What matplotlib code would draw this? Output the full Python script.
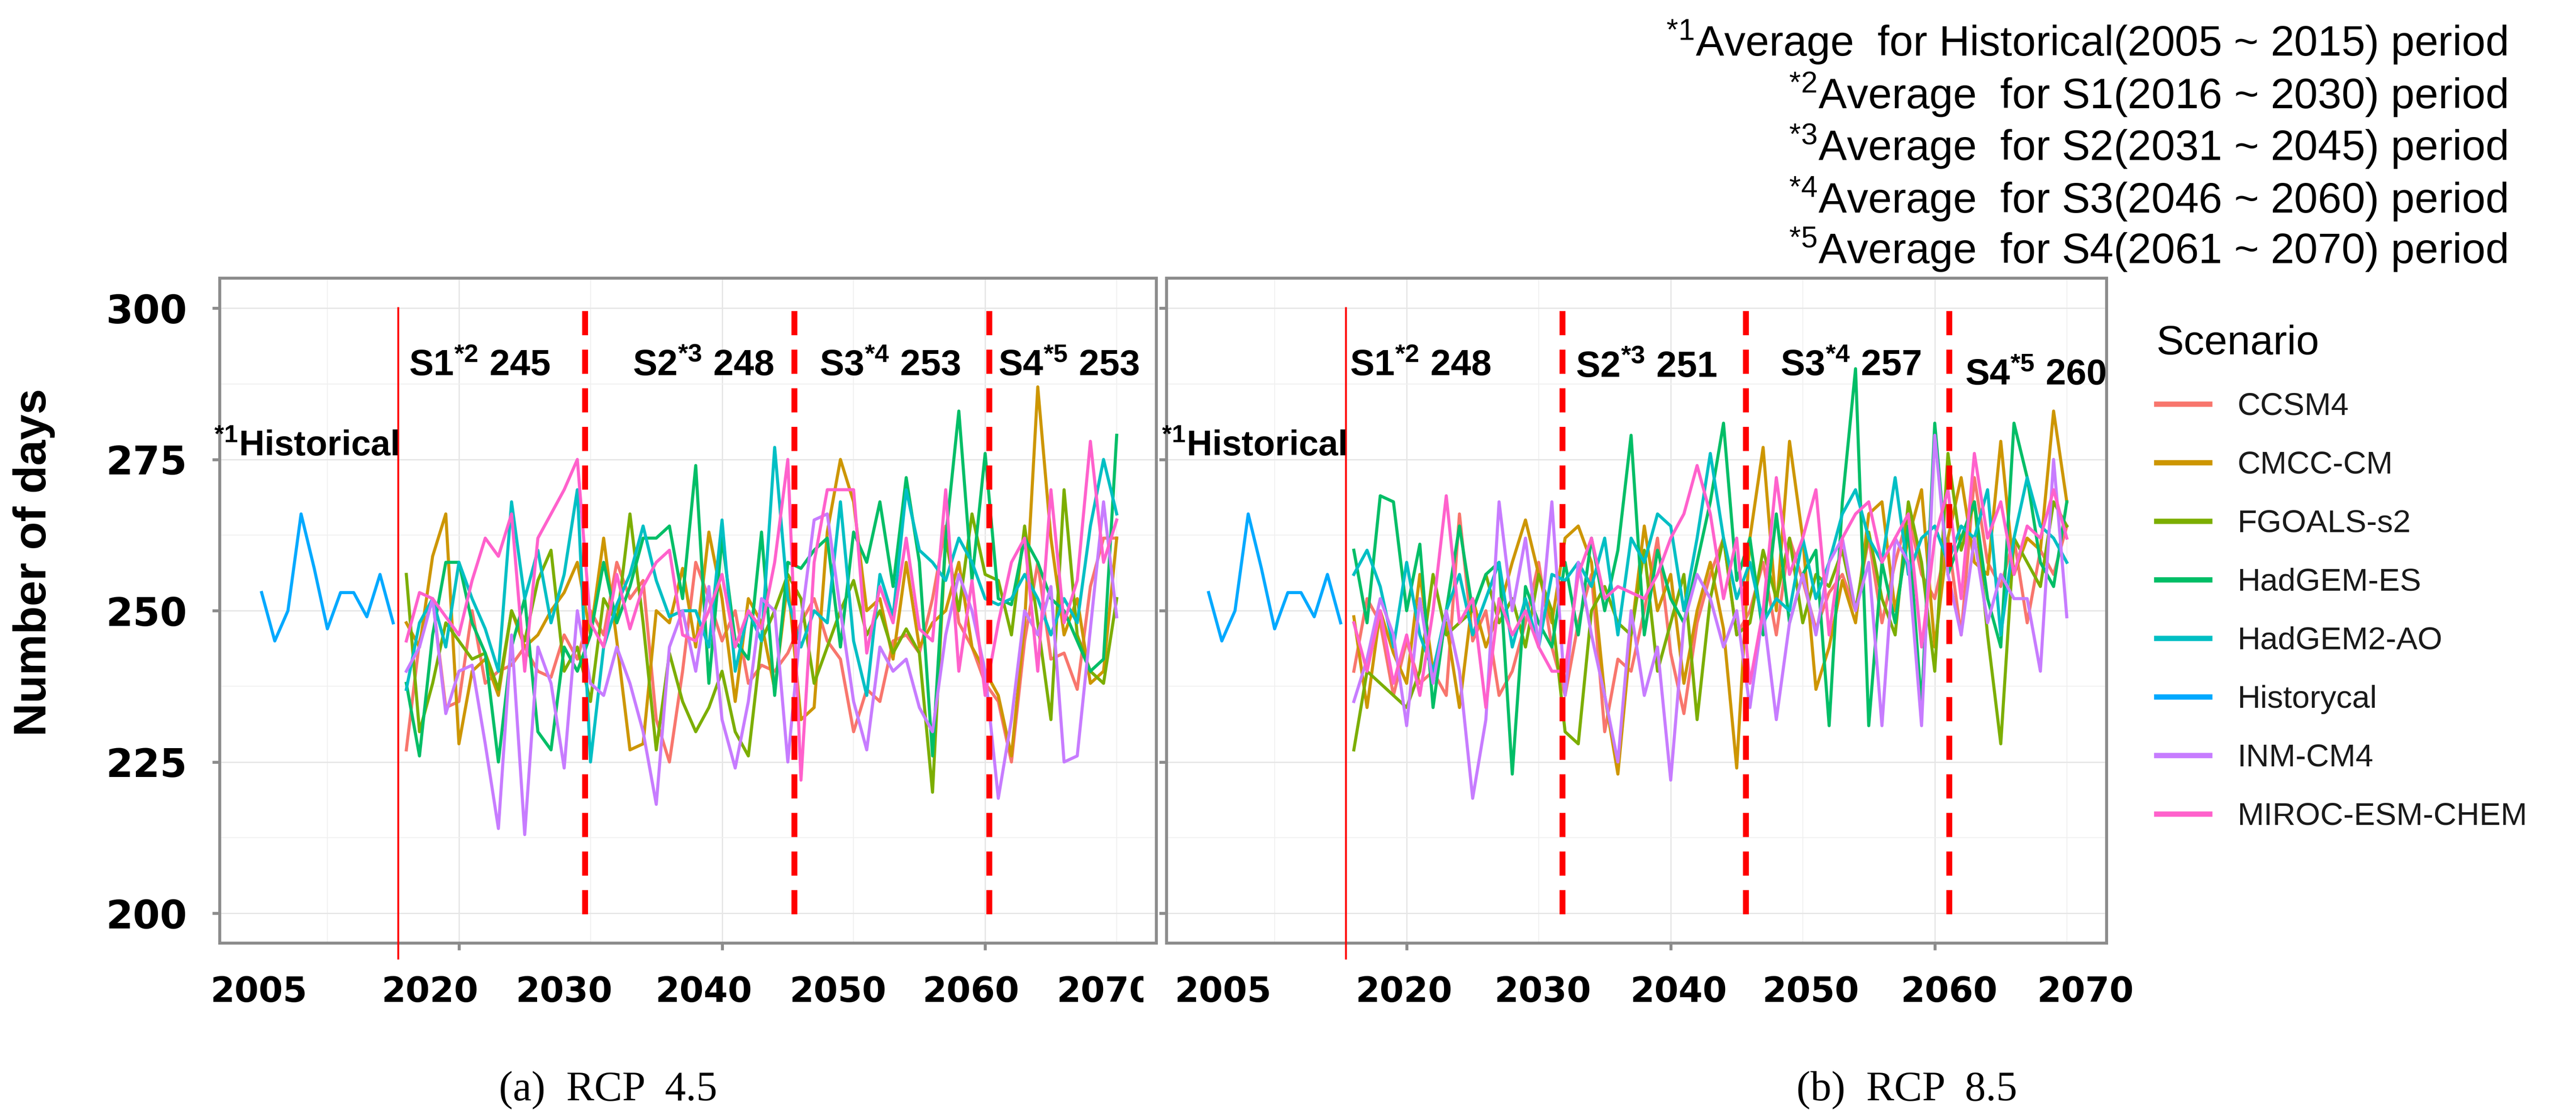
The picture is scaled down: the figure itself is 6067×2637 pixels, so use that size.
import numpy as np
import matplotlib
matplotlib.use("Agg")
import matplotlib.pyplot as plt
from matplotlib.lines import Line2D
from matplotlib.transforms import Bbox, TransformedBbox, blended_transform_factory

plt.rcParams['mathtext.fontset'] = 'custom'
plt.rcParams['mathtext.rm'] = 'Liberation Sans'
plt.rcParams['mathtext.bf'] = 'Liberation Sans:bold'
plt.rcParams['mathtext.it'] = 'Liberation Sans:italic'

# ---- data ----
hist_years = list(range(2005, 2016))
hist_vals = [253, 245, 250, 266, 257, 247, 253, 253, 249, 256, 248]

years = list(range(2016, 2071))

models = ["CCSM4", "CMCC-CM", "FGOALS-s2", "HadGEM-ES", "HadGEM2-AO", "Historycal", "INM-CM4", "MIROC-ESM-CHEM"]
colors = ["#F8766D", "#CD9600", "#7CAE00", "#00BE67", "#00BFC4", "#00A9FF", "#C77CFF", "#FF61CC"]

rcp45 = {
    "CCSM4": [227, 245, 252, 234, 235, 250, 238, 240, 241, 244, 240, 239, 246, 242, 250,
              246, 258, 252, 255, 232, 225, 240, 258, 252, 245, 250, 238, 241, 240, 243,
              248, 252, 245, 242, 230, 237, 235, 245, 246, 243, 252, 264, 248, 244, 238,
              235, 225, 245, 258, 242, 243, 237, 254, 262, 262],
    "CMCC-CM": [248, 244, 259, 266, 228, 240, 242, 236, 250, 244, 246, 250, 253, 258, 246,
                262, 245, 227, 228, 250, 248, 257, 244, 263, 252, 235, 252, 248, 237, 255,
                232, 234, 263, 275, 268, 250, 252, 242, 258, 244, 248, 250, 258, 244, 240,
                236, 226, 248, 287, 262, 246, 252, 238, 240, 262],
    "FGOALS-s2": [256, 230, 238, 248, 245, 242, 243, 237, 250, 245, 255, 260, 240, 244, 235,
                  252, 248, 266, 248, 227, 243, 235, 230, 234, 240, 230, 226, 245, 250, 256,
                  252, 238, 244, 250, 255, 246, 250, 243, 247, 243, 220, 262, 250, 266, 256,
                  255, 246, 264, 248, 232, 270, 246, 240, 238, 252],
    "HadGEM-ES": [238, 226, 246, 258, 258, 248, 243, 225, 244, 252, 230, 227, 244, 240, 246,
                  258, 248, 254, 262, 262, 264, 252, 274, 238, 262, 245, 242, 263, 236, 258,
                  257, 260, 262, 244, 263, 258, 268, 254, 272, 258, 226, 262, 283, 255, 276,
                  252, 251, 262, 258, 252, 250, 245, 240, 242, 279],
    "HadGEM2-AO": [237, 248, 252, 244, 258, 252, 247, 240, 268, 252, 260, 248, 256, 270, 225,
                   244, 251, 256, 264, 255, 249, 250, 250, 244, 265, 240, 250, 245, 277, 252,
                   244, 250, 248, 268, 245, 236, 256, 249, 270, 260, 258, 255, 262, 258, 252,
                   251, 252, 256, 252, 246, 252, 248, 264, 275, 266],
    "INM-CM4": [240, 244, 252, 233, 240, 241, 228, 214, 246, 213, 244, 238, 224, 250, 238,
                236, 244, 238, 230, 218, 244, 250, 240, 254, 232, 224, 235, 252, 250, 225,
                248, 265, 266, 250, 235, 227, 244, 240, 242, 234, 230, 246, 256, 250, 240,
                219, 232, 250, 246, 254, 225, 226, 247, 268, 249],
    "MIROC-ESM-CHEM": [245, 253, 252, 249, 246, 255, 262, 259, 266, 240, 262, 266, 270, 275, 248,
                       244, 256, 247, 254, 258, 260, 246, 245, 250, 256, 244, 250, 247, 258, 275,
                       222, 258, 270, 270, 270, 243, 254, 248, 262, 247, 245, 270, 240, 255, 236,
                       248, 258, 262, 240, 270, 248, 255, 278, 258, 265],
}

rcp85 = {
    "CCSM4": [240, 252, 248, 236, 245, 238, 240, 236, 266, 245, 250, 236, 240, 248, 258,
              244, 236, 248, 256, 230, 242, 240, 250, 262, 243, 233, 248, 256, 262, 246,
              250, 258, 246, 262, 255, 247, 253, 256, 250, 262, 248, 258, 266, 256, 252,
              262, 246, 272, 258, 254, 262, 248, 260, 256, 264],
    "CMCC-CM": [249, 234, 250, 243, 238, 256, 240, 248, 234, 252, 244, 250, 258, 265, 256,
                248, 262, 264, 258, 236, 223, 246, 264, 250, 256, 238, 250, 258, 247, 224,
                262, 277, 250, 278, 262, 237, 244, 255, 248, 266, 268, 250, 262, 270, 244,
                262, 272, 258, 256, 278, 256, 262, 260, 283, 268],
    "FGOALS-s2": [227, 240, 238, 236, 234, 240, 256, 246, 248, 250, 256, 248, 252, 244, 256,
                  250, 230, 228, 250, 254, 248, 246, 260, 240, 248, 256, 232, 252, 262, 246,
                  248, 260, 252, 262, 248, 256, 254, 260, 250, 263, 252, 246, 268, 258, 240,
                  276, 260, 268, 246, 228, 262, 258, 254, 268, 264],
    "HadGEM-ES": [260, 248, 269, 268, 250, 261, 234, 250, 264, 250, 256, 258, 223, 254, 248,
                  244, 258, 246, 262, 250, 260, 279, 246, 260, 252, 248, 258, 268, 281, 255,
                  262, 246, 266, 248, 256, 260, 231, 268, 290, 231, 258, 248, 264, 234, 281,
                  256, 262, 268, 252, 244, 281, 272, 258, 254, 268],
    "HadGEM2-AO": [256, 260, 254, 244, 258, 246, 240, 250, 256, 246, 252, 258, 244, 252, 244,
                   256, 255, 258, 254, 262, 246, 262, 258, 266, 264, 250, 262, 276, 262, 252,
                   258, 248, 252, 250, 262, 252, 258, 266, 270, 262, 258, 272, 256, 262, 264,
                   258, 264, 262, 270, 246, 262, 272, 264, 262, 258],
    "INM-CM4": [235, 242, 252, 246, 231, 252, 238, 250, 240, 219, 232, 268, 250, 262, 244,
                268, 236, 258, 246, 236, 225, 250, 236, 244, 222, 248, 256, 252, 244, 250,
                234, 250, 232, 248, 256, 246, 258, 262, 250, 258, 231, 262, 258, 231, 279,
                256, 246, 262, 248, 256, 252, 252, 240, 275, 249],
    "MIROC-ESM-CHEM": [248, 240, 250, 238, 246, 236, 250, 269, 248, 252, 234, 252, 246, 250, 244,
                       240, 240, 256, 262, 252, 254, 253, 252, 256, 262, 266, 274, 266, 252, 262,
                       238, 250, 272, 256, 262, 270, 246, 262, 266, 268, 258, 262, 266, 244, 262,
                       270, 252, 276, 262, 268, 256, 264, 262, 270, 262],
}

period_labels = ["S1", "S2", "S3", "S4"]
period_marks = ["*2", "*3", "*4", "*5"]
period_means_45 = [245, 248, 253, 253]
period_means_85 = [248, 251, 257, 260]

hist_line = 2015.4
dash_45 = [2029.6, 2045.5, 2060.3]
dash_85 = [2031.8, 2045.7, 2061.1]
label_x_45 = [2016.2, 2033.2, 2047.4, 2061.0]
label_x_85 = [2015.7, 2032.8, 2048.3, 2062.3]
label_y_45 = [288.9, 288.9, 288.9, 288.9]
label_y_85 = [288.9, 288.6, 288.9, 287.3]

xtick_text = ["2005", "2020", "2030", "2040", "2050", "2060", "2070"]
xtick_pos_45 = [2004.8, 2017.8, 2028.0, 2038.6, 2048.8, 2058.9, 2069.1]
xtick_pos_85 = [2006.1, 2019.8, 2030.3, 2040.6, 2050.6, 2061.1, 2071.4]

footnotes = [
    r"$^{*1}$Average  for Historical(2005 ~ 2015) period",
    r"$^{*2}$Average  for S1(2016 ~ 2030) period",
    r"$^{*3}$Average  for S2(2031 ~ 2045) period",
    r"$^{*4}$Average  for S3(2046 ~ 2060) period",
    r"$^{*5}$Average  for S4(2061 ~ 2070) period",
]

W, H = 6067, 2637
fig = plt.figure(figsize=(W / 100, H / 100), dpi=100)
fig.patch.set_facecolor("white")

ax1 = fig.add_axes([517 / W, 1 - 2222 / H, (2723 - 517) / W, (2222 - 655) / H])
ax2 = fig.add_axes([2747 / W, 1 - 2222 / H, (4961 - 2747) / W, (2222 - 655) / H])

border = "#8c8c8c"


def draw_panel(ax, data, dashes, lab_x, lab_y, means, tick_pos, show_y, clip_last):
    for m, c in zip(models, colors):
        if m == "Historycal":
            ax.plot(hist_years, hist_vals, color=c, lw=5.2, zorder=3)
        else:
            ax.plot(years, data[m], color=c, lw=5.2, zorder=3)

    ax.plot([hist_line, hist_line], [300, 192.5], color="#ff0000", lw=3.2,
            zorder=5, clip_on=False)
    for d in dashes:
        ax.plot([d, d], [299.5, 198.3], color="#ff0000", lw=10,
                dashes=(4.1, 2.45), zorder=5)

    for s, mk, v, x, y in zip(period_labels, period_marks, means, lab_x, lab_y):
        ax.text(x, y, s + r"$^{\mathbf{" + mk + "}}$ " + str(v), fontsize=62,
                fontweight="bold", family="Liberation Sans", ha="left",
                va="baseline", zorder=6, clip_on=False)
    ax.text(hist_line, 275.6, r"$^{\mathbf{*1}}$Historical", fontsize=60,
            fontweight="bold", family="Liberation Sans",
            ha="right", va="baseline", zorder=6, clip_on=False)

    ax.set_xlim(2001.8, 2073.0)
    ax.set_ylim(195.1, 305)
    ax.set_xticks([2020, 2040, 2060])
    ax.set_xticks([2010, 2030, 2050, 2070], minor=True)
    ax.set_yticks([200, 225, 250, 275, 300])
    ax.set_yticks([212.5, 237.5, 262.5, 287.5], minor=True)
    ax.grid(which="major", color="#e6e6e6", lw=2.2, zorder=0)
    ax.grid(which="minor", color="#f0f0f0", lw=1.6, zorder=0)
    ax.set_axisbelow(True)
    ax.tick_params(which="major", length=12, width=5, color=border,
                   labelbottom=False, labelleft=show_y, pad=43)
    ax.tick_params(which="minor", length=0)
    if show_y:
        for lbl in ax.get_yticklabels():
            lbl.set_fontsize(66)
            lbl.set_fontweight("bold")
            lbl.set_family("DejaVu Sans")
    for sp in ax.spines.values():
        sp.set_color(border)
        sp.set_linewidth(5)

    tr = blended_transform_factory(ax.transData, ax.transAxes)
    for i, (t, p) in enumerate(zip(xtick_text, tick_pos)):
        txt = ax.text(p, -0.0745, t, transform=tr, ha="center", va="center",
                      fontsize=59, fontweight="bold", family="DejaVu Sans",
                      clip_on=False)
        if clip_last and i == len(xtick_text) - 1:
            txt.set_clip_box(TransformedBbox(Bbox([[0, 0], [2693 / W, 1]]),
                                             fig.transFigure))
            txt.set_clip_on(True)


draw_panel(ax1, rcp45, dash_45, label_x_45, label_y_45, period_means_45,
           xtick_pos_45, True, True)
draw_panel(ax2, rcp85, dash_85, label_x_85, label_y_85, period_means_85,
           xtick_pos_85, False, False)

fig.text(80 / W, 1 - 1325 / H, "Number of days", rotation=90, ha="center",
         va="center", fontsize=78, fontweight="bold", family="Liberation Sans")

# footnotes top right
foot_y = [131, 256, 379, 502, 620]
for t, y in zip(footnotes, foot_y):
    fig.text(5904 / W, 1 - y / H, t, ha="right", va="baseline", fontsize=72,
             family="Liberation Sans", color="black")

# captions
fig.text(1432 / W, 1 - 2593 / H, "(a)  RCP  4.5", ha="center", va="baseline",
         fontsize=71, family="Liberation Serif")
fig.text(4491 / W, 1 - 2593 / H, "(b)  RCP  8.5", ha="center", va="baseline",
         fontsize=71, family="Liberation Serif")

# legend
handles = [Line2D([0], [0], color=c, lw=9) for c in colors]
leg = fig.legend(handles, models, loc="upper left",
                 bbox_to_anchor=(5079 / W, 1 - 765 / H), frameon=False,
                 title="Scenario", fontsize=54, title_fontsize=70,
                 handlelength=1.67, handletextpad=0.87, labelspacing=0.92,
                 borderpad=0, borderaxespad=0, alignment="left")
for t in leg.get_texts():
    t.set_color("#1a1a1a")
    t.set_family("Liberation Sans")
leg.get_title().set_family("Liberation Sans")

fig.savefig("out.png", dpi=100, facecolor="white")
